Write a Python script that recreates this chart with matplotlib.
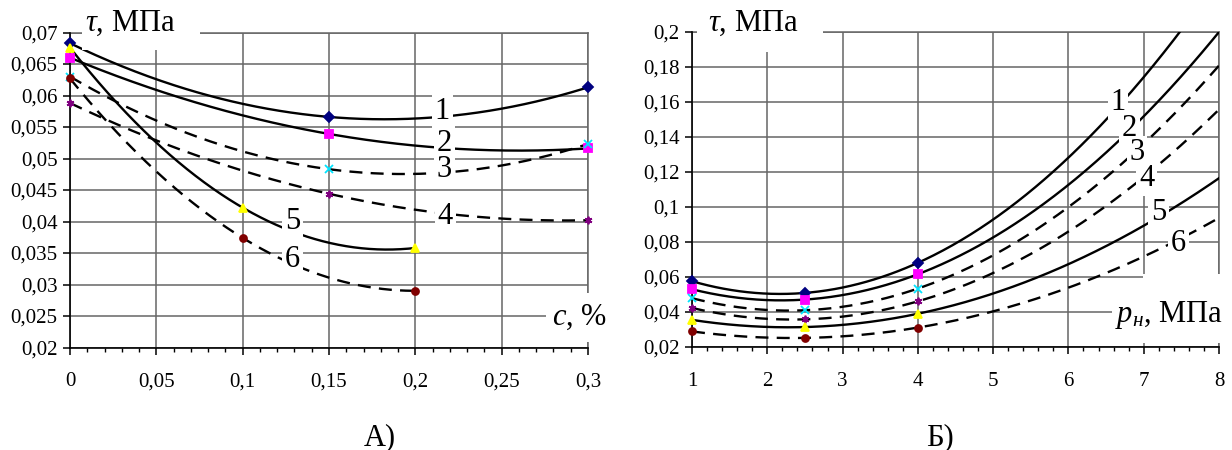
import numpy as np
import matplotlib
matplotlib.use('Agg')
import matplotlib.pyplot as plt
from matplotlib.patches import Rectangle
from matplotlib.ticker import MultipleLocator

plt.rcParams['font.family'] = ['Liberation Serif', 'DejaVu Serif']
plt.rcParams['mathtext.fontset'] = 'custom'
plt.rcParams['mathtext.it'] = 'Liberation Serif:italic'
plt.rcParams['mathtext.rm'] = 'Liberation Serif'

# ---------------- data: panel A (tau vs c, %) ----------------
c_pts_a = [0.0, 0.15, 0.3]          # curves 1-4
c_pts_b = [0.0, 0.1, 0.2]           # curves 5-6
tauA_1 = [0.0683, 0.0566, 0.0613]
tauA_2 = [0.0660, 0.0539, 0.0516]
tauA_3 = [0.0630, 0.0483, 0.0523]
tauA_4 = [0.0588, 0.0444, 0.0402]
tauA_5 = [0.0676, 0.0422, 0.0358]
tauA_6 = [0.0627, 0.0374, 0.0290]

# ---------------- data: panel B (tau vs p_n, MPa) ----------------
p_pts = [1.0, 2.5, 4.0]
tauB_1 = [0.0576, 0.0509, 0.0681]
tauB_2 = [0.0530, 0.0471, 0.0616]
tauB_3 = [0.0479, 0.0410, 0.0534]
tauB_4 = [0.0423, 0.0358, 0.0461]
tauB_5 = [0.0355, 0.0314, 0.0390]
tauB_6 = [0.0289, 0.0252, 0.0311]

curve_names = ['1', '2', '3', '4', '5', '6']

yticksA = [0.02, 0.025, 0.03, 0.035, 0.04, 0.045, 0.05, 0.055, 0.06, 0.065, 0.07]
yticklabelsA = ['0,02', '0,025', '0,03', '0,035', '0,04', '0,045', '0,05', '0,055', '0,06', '0,065', '0,07']
xticksA = [0, 0.05, 0.1, 0.15, 0.2, 0.25, 0.3]
xticklabelsA = ['0', '0,05', '0,1', '0,15', '0,2', '0,25', '0,3']
yticksB = [0.02, 0.04, 0.06, 0.08, 0.1, 0.12, 0.14, 0.16, 0.18, 0.2]
yticklabelsB = ['0,02', '0,04', '0,06', '0,08', '0,1', '0,12', '0,14', '0,16', '0,18', '0,2']
xticksB = [1, 2, 3, 4, 5, 6, 7, 8]
xticklabelsB = ['1', '2', '3', '4', '5', '6', '7', '8']

# ---------------- styles ----------------
DASH = (0, (5.5, 3.5))
line_styles = ['-', '-', DASH, DASH, '-', DASH]
markers = ['D', 's', 'x', (6, 2, 0), '^', 'o']
mcolors = ['#000080', '#FF00FF', '#00E5FF', '#800080', '#FFFF00', '#800000']
labelposA = [(0.2157, 0.05745), (0.2167, 0.0524), (0.2167, 0.0482),
             (0.2174, 0.0408), (0.129, 0.0400), (0.129, 0.0339)]
labelposB = [(6.66, 0.160), (6.81, 0.145), (6.91, 0.131),
             (7.04, 0.116), (7.2, 0.097), (7.46, 0.079)]

W, H = 1232, 450
fig = plt.figure(figsize=(W / 100, H / 100), dpi=100)
axA = fig.add_axes([70 / W, 1 - 347.5 / H, (588 - 70) / W, (347.5 - 32.5) / H])
axB = fig.add_axes([692 / W, 1 - 347 / H, (1219 - 692) / W, (347 - 32) / H])

GRID = '#666666'
TICKFS = 15
LABFS = 22


def setup(ax, xl, yl, xt, xtl, yt, ytl, minor):
    ax.set_xlim(*xl)
    ax.set_ylim(*yl)
    ax.set_xticks(xt)
    ax.set_xticklabels(xtl)
    ax.set_yticks(yt)
    ax.set_yticklabels(ytl)
    ax.xaxis.set_minor_locator(MultipleLocator(minor))
    ax.set_axisbelow(True)
    ax.grid(True, which='major', color=GRID, lw=1.1)
    for s in ['top', 'right']:
        ax.spines[s].set_color(GRID)
        ax.spines[s].set_linewidth(1.1)
        ax.spines[s].set_zorder(1)
    for s in ['left', 'bottom']:
        ax.spines[s].set_color('black')
        ax.spines[s].set_linewidth(1.2)
    ax.tick_params(axis='both', which='major', direction='out', length=5,
                   width=1.1, color='black', labelsize=TICKFS)
    ax.tick_params(axis='x', which='minor', direction='out', length=3,
                   width=1.0, color='black')
    ax.tick_params(axis='x', which='major', pad=13)
    ax.tick_params(axis='y', which='major', pad=4)


def draw(ax, xs, ys, x_end, i):
    coef = np.polyfit(xs, ys, 2)
    xx = np.linspace(xs[0], x_end, 400)
    ax.plot(xx, np.polyval(coef, xx), color='black', lw=1.7,
            ls=line_styles[i], zorder=3)
    m = markers[i]
    ax.plot(xs, ys, ls='none', marker=m, ms=5.5 if m != 'o' else 5,
            color=mcolors[i], mec=mcolors[i], mew=1.3, zorder=4, clip_on=False)


setup(axA, (0, 0.3), (0.02, 0.07), xticksA, xticklabelsA, yticksA, yticklabelsA, 0.01)
setup(axB, (1, 8), (0.02, 0.2), xticksB, xticklabelsB, yticksB, yticklabelsB, 0.2)

tausA = [tauA_1, tauA_2, tauA_3, tauA_4, tauA_5, tauA_6]
for i, t in enumerate(tausA):
    xs = c_pts_a if i < 4 else c_pts_b
    draw(axA, xs, t, xs[-1], i)

tausB = [tauB_1, tauB_2, tauB_3, tauB_4, tauB_5, tauB_6]
for i, t in enumerate(tausB):
    draw(axB, p_pts, t, 8.0, i)

# curve labels
for ax, pos in ((axA, labelposA), (axB, labelposB)):
    for name, (x, y) in zip(curve_names, pos):
        ax.text(x, y, name, fontsize=LABFS, ha='center', va='center', zorder=6,
                bbox=dict(facecolor='white', edgecolor='none', pad=2))


# axis caption boxes and texts
def wbox(ax, x0, x1, y0, y1):
    ax.add_patch(Rectangle((x0, y0), x1 - x0, y1 - y0, facecolor='white',
                           edgecolor='none', zorder=5, clip_on=False))


wbox(axA, 0.007, 0.0754, 0.0672, 0.075)
axA.text(0.0087, 0.0703, r'$\tau$, МПа', fontsize=LABFS, ha='left',
         va='baseline', zorder=6)
wbox(axA, 0.2757, 0.33, 0.0208, 0.0287)
axA.text(0.279, 0.0248, r'$c$, %', fontsize=LABFS, ha='left', va='center', zorder=6)

wbox(axB, 1.066, 2.74, 0.1884, 0.215)
axB.text(1.2125, 0.2006, r'$\tau$, МПа', fontsize=LABFS, ha='left',
         va='baseline', zorder=6)
wbox(axB, 6.58, 8.3, 0.0225, 0.0585)
wbox(axB, 6.99, 8.3, 0.0580, 0.0615)
axB.text(6.62, 0.0345, r'$p_н$, МПа', fontsize=LABFS, ha='left', va='baseline', zorder=6)

fig.text(380 / W, 1 - 445 / H, 'А)', fontsize=LABFS, ha='center', va='baseline')
fig.text(940 / W, 1 - 445 / H, 'Б)', fontsize=LABFS, ha='center', va='baseline')

fig.savefig('out.png', dpi=100, facecolor='white')
